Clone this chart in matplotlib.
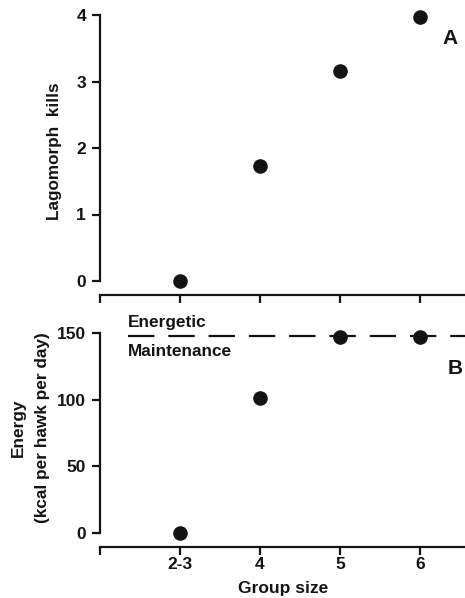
import matplotlib
matplotlib.use("Agg")
import matplotlib.pyplot as plt

plt.rcParams['font.family'] = ['Liberation Sans', 'DejaVu Sans']
plt.rcParams['font.weight'] = 'bold'
plt.rcParams['lines.scale_dashes'] = False

# Data
group_sizes = ["2-3", "4", "5", "6"]
lagomorph_kills = [0.0, 1.73, 3.16, 3.97]
energy_kcal = [0.0, 101, 147, 147]
maintenance_kcal = 148

W, H = 465, 598
fig = plt.figure(figsize=(W / 100, H / 100), dpi=100)

def frac_box(left, top, right, bottom):
    return [left / W, 1 - bottom / H, (right - left) / W, (bottom - top) / H]

positions = [1, 2, 3, 4]
xlim = (0, 4.5625)
lw = 1.6
ink = "#141414"

ax1 = fig.add_axes(frac_box(100, 0, 465, 295))
ax2 = fig.add_axes(frac_box(100, 295, 465, 547))

for ax in (ax1, ax2):
    ax.set_xlim(*xlim)
    for s in ("top", "right"):
        ax.spines[s].set_visible(False)
    ax.spines["left"].set_linewidth(lw)
    ax.spines["bottom"].set_linewidth(lw)
    ax.spines["left"].set_color(ink)
    ax.spines["bottom"].set_color(ink)
    ax.set_xticks([0] + positions)
    ax.tick_params(axis="both", direction="out", width=lw, length=6,
                   labelsize=12.5, pad=4, color=ink, labelcolor=ink)
    ax.patch.set_alpha(0)

# Panel A
ax1.scatter(positions, lagomorph_kills, s=90, color=ink, zorder=3)
ax1.set_ylim(-14 / 66.5, 4 + 15 / 66.5)
ax1.set_yticks([0, 1, 2, 3, 4])
ax1.spines["left"].set_bounds(0, 4)
ax1.tick_params(axis="x", labelbottom=False)
ax1.text(4.375, 4 - (38 - 15) / 66.5, "A", ha="center", va="center",
         fontsize=15, fontweight="bold", color=ink)

# Panel B
ax2.set_ylim(-(547 - 533) / (200 / 150), 150 + (333 - 295) / (200 / 150))
ax2.set_yticks([0, 50, 100, 150])
ax2.spines["left"].set_bounds(0, 150)
ax2.set_xticklabels([""] + group_sizes)
ax2.tick_params(axis="x", pad=1)
ax2.plot([0.35, xlim[1]], [maintenance_kcal, maintenance_kcal],
         color=ink, lw=1.6, dashes=(19, 10), zorder=2)
ax2.scatter(positions, energy_kcal, s=90, color=ink, zorder=3)
ax2.text(0.35, maintenance_kcal + 10, "Energetic", ha="left", va="center",
         fontsize=12.4, fontweight="bold", color=ink)
ax2.text(0.35, maintenance_kcal - 12, "Maintenance", ha="left", va="center",
         fontsize=12.4, fontweight="bold", color=ink)
ax2.text(4.44, maintenance_kcal - 25, "B", ha="center", va="center",
         fontsize=15, fontweight="bold", color=ink)

# Axis titles
fig.text(55 / W, 1 - 151 / H, "Lagomorph  kills", rotation=90, ha="center",
         va="center", fontsize=12.3, fontweight="bold", color=ink)
fig.text(18 / W, 1 - 428 / H, "Energy", rotation=90, ha="center",
         va="center", fontsize=12.4, fontweight="bold", color=ink)
fig.text(43 / W, 1 - 428 / H, "(kcal per hawk per day)", rotation=90,
         ha="center", va="center", fontsize=12.4, fontweight="bold", color=ink)
fig.text(283 / W, 1 - 588 / H, "Group size", ha="center", va="center",
         fontsize=12.5, fontweight="bold", color=ink)

fig.savefig("out.png", dpi=100, facecolor="white")
